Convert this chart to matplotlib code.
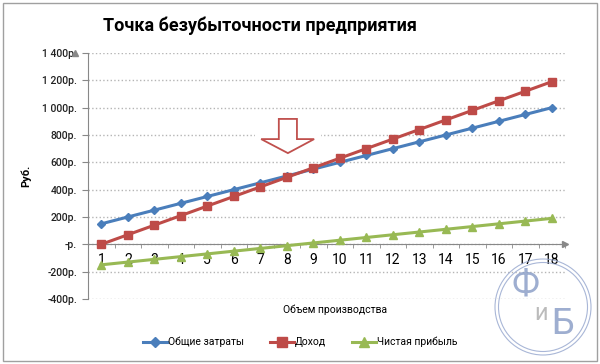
import matplotlib
matplotlib.use('Agg')
import matplotlib.pyplot as plt
from matplotlib.patches import Polygon, Rectangle, Circle

plt.rcParams['font.family'] = ['Roboto', 'DejaVu Sans']

# data
volume = list(range(1, 19))
costs = [150, 200, 250, 300, 350, 400, 450, 500, 550, 600, 650, 700, 750, 800, 850, 900, 950, 1000]
income = [0, 70, 140, 210, 280, 350, 420, 490, 560, 630, 700, 770, 840, 910, 980, 1050, 1120, 1190]
profit = [-150, -130, -110, -90, -70, -50, -30, -10, 10, 30, 50, 70, 90, 110, 130, 150, 170, 190]
y_ticks = [-400, -200, 0, 200, 400, 600, 800, 1000, 1200, 1400]
y_labels = ['-400р.', '-200р.', '-р.', '200р.', '400р.', '600р.', '800р.',
            '1 000р.', '1 200р.', '1 400р.']

fig = plt.figure(figsize=(6, 3.64), dpi=100)
ax = fig.add_axes([0.1467, 0.1786, 0.795, 0.6758])

ax.plot(volume, costs, color='#4A7EBB', lw=2.2, marker='D', ms=4.5, label='Общие затраты', zorder=5)
ax.plot(volume, income, color='#BE4B48', lw=2.2, marker='s', ms=5.5, label='Доход', zorder=5)
ax.plot(volume, profit, color='#98B954', lw=2.2, marker='^', ms=6, label='Чистая прибыль', zorder=5)

ax.set_xlim(0.5, 18.5)
ax.set_ylim(-400, 1400)
ax.set_yticks(y_ticks)
ax.set_yticklabels(y_labels, fontsize=7.5, fontweight='medium', color='#222222')
ax.set_xticks(volume)
ax.set_xticklabels([str(v) for v in volume], fontsize=8, fontweight='medium', color='#222222')
ax.set_xticks([v + 0.5 for v in range(0, 19)], minor=True)
ax.tick_params(axis='x', which='major', length=0, pad=6)
ax.tick_params(axis='x', which='minor', length=3, color='#888888', direction='out')
ax.tick_params(axis='y', length=4, color='#888888', pad=4)
ax.yaxis.grid(True, linestyle=':', color='#b5b5b5', lw=1)
ax.set_axisbelow(True)

for s in ['top', 'right']:
    ax.spines[s].set_visible(False)
ax.spines['bottom'].set_position(('data', 0))
ax.spines['bottom'].set_color('#888888')
ax.spines['left'].set_color('#888888')
# axis arrow heads
ax.plot(1, 0, '>', color='#888888', ms=5, transform=ax.get_yaxis_transform(), clip_on=False)
ax.plot(0, 1, '^', color='#888888', ms=5, transform=ax.get_xaxis_transform(), clip_on=False)

# hollow arrow over the break-even point
ax.add_patch(Rectangle((0.350, 0.585), 0.138, 0.163, transform=ax.transAxes,
                       facecolor='white', edgecolor='none', zorder=2))
arrow = [(0.400, 0.732), (0.438, 0.732), (0.438, 0.650), (0.474, 0.650),
         (0.419, 0.593), (0.363, 0.650), (0.400, 0.650)]
ax.add_patch(Polygon(arrow, closed=True, transform=ax.transAxes,
                     facecolor='white', edgecolor='#C0504D', lw=1.3, zorder=3))

ax.set_ylabel('Руб.', fontsize=8, fontweight='bold')
ax.yaxis.set_label_coords(-0.12, 0.5)

fig.text(0.433, 0.93, 'Точка безубыточности предприятия', fontsize=13,
         fontweight='bold', ha='center', va='center')
fig.text(0.558, 0.148, 'Объем производства', fontsize=7.5, ha='center', va='center')

fig.legend(loc='center', bbox_to_anchor=(0.5, 0.06), ncol=3, frameon=False,
           fontsize=7.5, handlelength=2.3, handletextpad=0.1, columnspacing=2.5,
           markerscale=1.2)

# outer frame
fig.patches.append(Rectangle((3 / 600, 3 / 364), 594 / 600, 358 / 364, transform=fig.transFigure,
                             facecolor='none', edgecolor='#a0a0a0', lw=1))

# watermark
for r in (0.48, 0.445):
    fig.patches.append(Circle((5.43, 0.57), r, transform=fig.dpi_scale_trans,
                              facecolor='none', edgecolor='#9aaad0', lw=0.8, alpha=0.85))
fig.text(5.25, 0.79, 'Ф', transform=fig.dpi_scale_trans, fontsize=26, color='#8da0c8',
         ha='center', va='center', alpha=0.85)
fig.text(5.41, 0.50, 'и', transform=fig.dpi_scale_trans, fontsize=17, color='#b0b0b0',
         ha='center', va='center', alpha=0.85)
fig.text(5.62, 0.40, 'Б', transform=fig.dpi_scale_trans, fontsize=26, color='#8da0c8',
         ha='center', va='center', alpha=0.85)

fig.savefig('out.png', dpi=100)
